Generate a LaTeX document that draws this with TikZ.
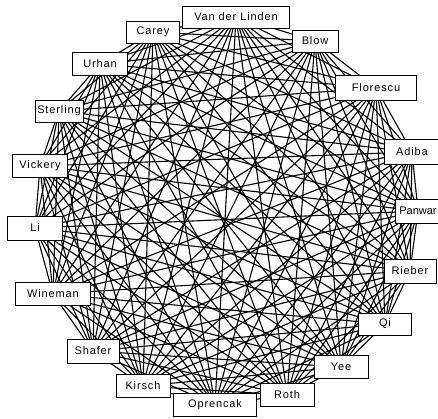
\documentclass[tikz,border=0pt]{standalone}
\usepackage{fontspec}
\newfontfamily\labfont[LetterSpace=8]{Liberation Sans}
\newfontfamily\labfontn{Liberation Sans}
\usetikzlibrary{backgrounds}
\tikzset{
  person/.style={draw=black, fill=white, line width=0.8pt, rectangle, inner sep=0pt,
    font=\labfont\fontsize{11}{12}\selectfont, minimum height=22pt},
  tie/.style={line width=1.1pt, black}
}
\begin{document}
\begin{tikzpicture}[x=1pt,y=-1pt]
\useasboundingbox (0,0) rectangle (438,418);
\clip (0,0) rectangle (438,418);
\node[person, minimum width=107pt] (vdl) at (236,17) {Van der Linden};
\node[person, minimum width=53pt] (carey) at (153,32) {Carey};
\node[person, minimum width=46pt] (blow) at (315,41) {Blow};
\node[person, minimum width=81pt, minimum height=25pt] (flor) at (376,88) {Florescu};
\node[person, minimum width=56pt, minimum height=25pt] (adiba) at (412,152) {Adiba};
\node[person, minimum width=46pt, minimum height=24pt, font=\labfontn\fontsize{11}{12}\selectfont] (panwar) at (418,211) {Panwar};
\node[person, minimum width=52pt, minimum height=24pt] (rieber) at (410,271) {Rieber};
\node[person, minimum width=53pt] (qi) at (385,324) {Qi};
\node[person, minimum width=54pt, minimum height=23pt] (yee) at (341,367) {Yee};
\node[person, minimum width=54pt, minimum height=23pt] (roth) at (287,395) {Roth};
\node[person, minimum width=83pt, minimum height=23pt] (opr) at (215,405) {Oprencak};
\node[person, minimum width=54pt, minimum height=23pt] (kirsch) at (143,386) {Kirsch};
\node[person, minimum width=52pt, minimum height=24pt] (shafer) at (93,351) {Shafer};
\node[person, minimum width=75pt, minimum height=23pt] (wine) at (53,294) {Wineman};
\node[person, minimum width=55pt, minimum height=24pt] (li) at (35,228) {Li};
\node[person, minimum width=55pt, minimum height=23pt] (vick) at (40,166) {Vickery};
\node[person, minimum width=48pt, minimum height=22pt] (sterl) at (59,111) {Sterling};
\node[person, minimum width=55pt, minimum height=23pt] (urhan) at (100,64) {Urhan};
\begin{pgfonlayer}{background}
\fill[white] (0,0) rectangle (438,418);
\foreach \a [count=\i] in {vdl,blow,flor,adiba,panwar,rieber,qi,yee,roth,opr,kirsch,shafer,wine,li,vick,sterl,urhan,carey}{
  \foreach \b [count=\j] in {vdl,blow,flor,adiba,panwar,rieber,qi,yee,roth,opr,kirsch,shafer,wine,li,vick,sterl,urhan,carey}{
    \ifnum\j>\i \draw[tie] (\a.center) -- (\b.center); \fi
  }
}
\end{pgfonlayer}
\end{tikzpicture}
\end{document}
